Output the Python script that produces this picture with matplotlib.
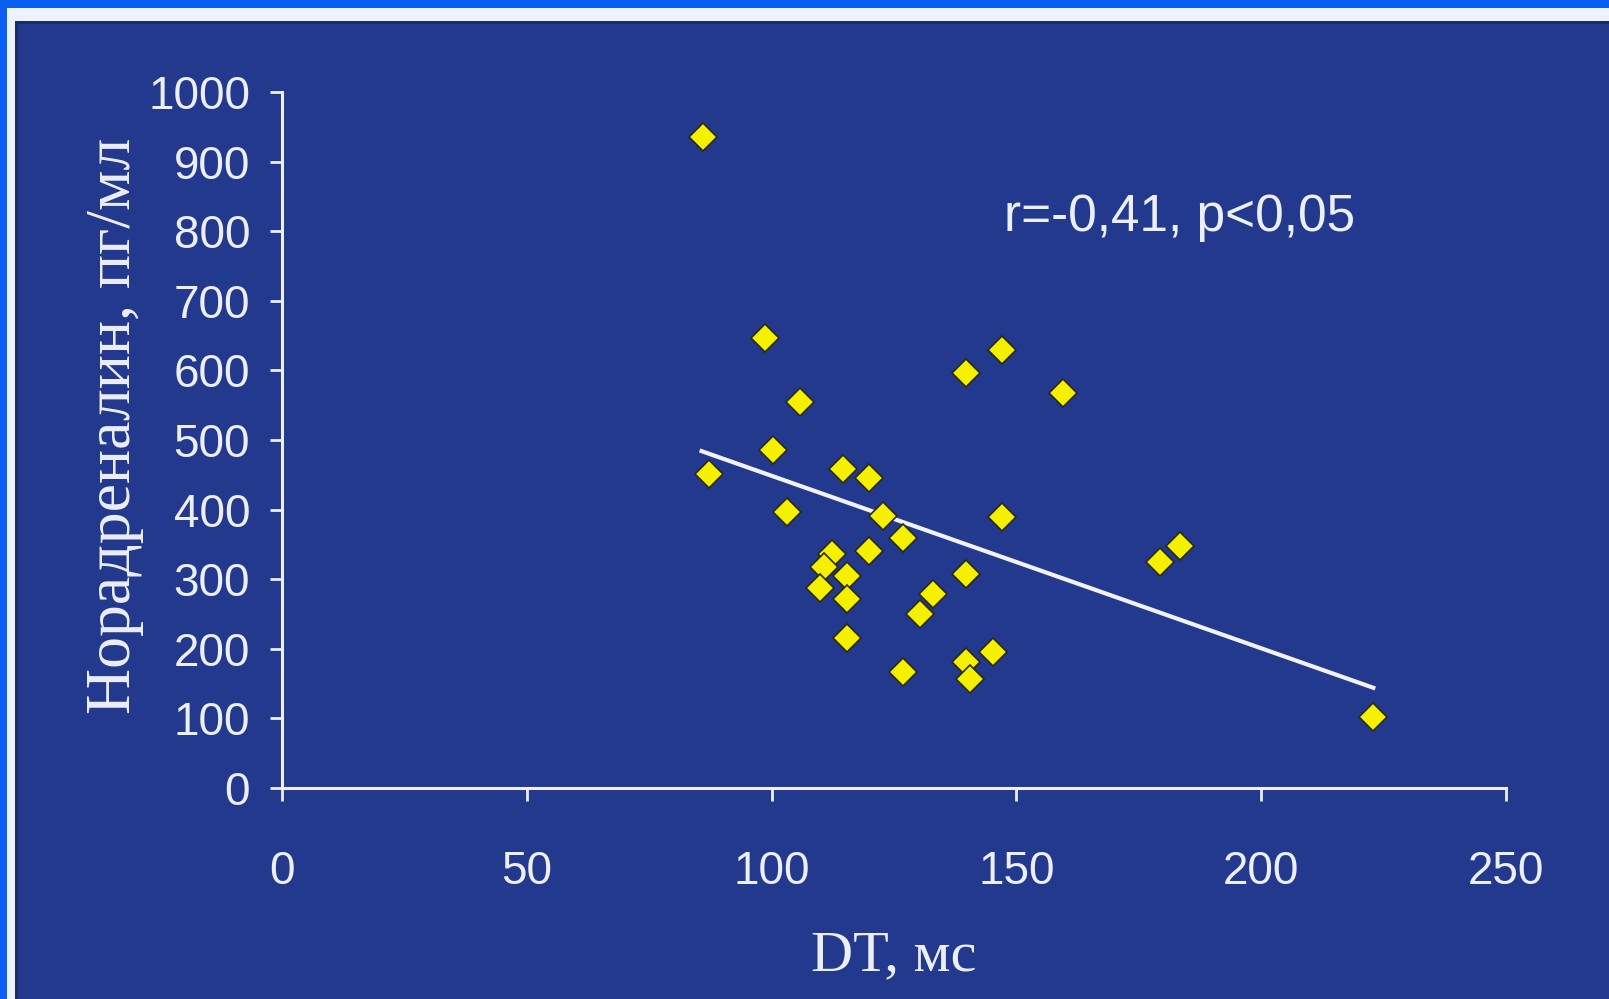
import matplotlib.pyplot as plt
from matplotlib.patches import Rectangle

# DT, ms (x) and noradrenaline, pg/ml (y)
dt_ms = [86.0, 87.3, 98.7, 100.3, 105.8, 103.1, 114.5, 119.8, 122.8, 126.8,
         119.8, 112.3, 110.8, 109.9, 115.3, 115.3, 115.3, 126.8, 132.9, 130.3,
         139.8, 139.8, 140.5, 145.3, 139.8, 147.0, 147.0, 159.5, 179.3, 183.4,
         222.9]
noradr = [935, 451, 646, 486, 554, 396, 458, 445, 391, 359,
          341, 336, 317, 288, 305, 272, 216, 167, 279, 250,
          307, 181, 157, 195, 596, 630, 389, 567, 324, 348,
          102]

# regression line end points as drawn in the source
fit_x = [85.7, 222.9]
fit_y = [484, 144]

x_ticks = [0, 50, 100, 150, 200, 250]
y_ticks = list(range(0, 1001, 100))

NAVY = "#23398d"
BLUE = "#0a5ef0"
FG = "#eceef8"

fig = plt.figure(figsize=(16.09, 9.99), dpi=100, facecolor=NAVY)
W, H = 1609, 999

# slide frame: bright blue band + white band on top and left
fig.patches.append(Rectangle((0, 0), 1, 1, transform=fig.transFigure,
                             facecolor=BLUE, edgecolor="none", zorder=-3))
fig.patches.append(Rectangle((7 / W, 0), 1, (H - 8) / H, transform=fig.transFigure,
                             facecolor="#eef2fa", edgecolor="none", zorder=-2))
fig.patches.append(Rectangle((15 / W, 0), 1, (H - 21) / H, transform=fig.transFigure,
                             facecolor="#1a2b6a", edgecolor="none", zorder=-1.5))
fig.patches.append(Rectangle((18 / W, 0), 1, (H - 24) / H, transform=fig.transFigure,
                             facecolor=NAVY, edgecolor="none", zorder=-1))

ax = fig.add_axes([282 / W, (H - 788) / H, (1506 - 282) / W, (788 - 92) / H])
ax.set_facecolor("none")

ax.plot(fit_x, fit_y, color="#f2f2fa", linewidth=3, zorder=2)
ax.plot(dt_ms, noradr, linestyle="none", marker="D", markersize=14.5,
        markerfacecolor="#f4f000", markeredgecolor="#2a2a18", markeredgewidth=1.2,
        zorder=3, clip_on=False)

ax.set_xlim(0, 250)
ax.set_ylim(0, 1000)
ax.set_xticks(x_ticks)
ax.set_yticks(y_ticks)

for side in ("top", "right"):
    ax.spines[side].set_visible(False)
for side in ("left", "bottom"):
    ax.spines[side].set_color(FG)
    ax.spines[side].set_linewidth(2.2)

ax.tick_params(axis="both", colors=FG, width=2, length=9, direction="out")
ax.tick_params(axis="x", pad=36)
ax.tick_params(axis="y", pad=14)
for lab in ax.get_xticklabels() + ax.get_yticklabels():
    lab.set_fontfamily("Liberation Sans")
    lab.set_fontsize(33)
    lab.set_color(FG)

ax.set_xlabel("DT, мс", fontfamily="Liberation Serif", fontsize=42,
              color=FG, labelpad=26)
ax.set_ylabel("Норадреналин, пг/мл", fontfamily="Liberation Serif", fontsize=46,
              color=FG)
ax.yaxis.set_label_coords(-0.113, 0.52)

ax.text(147.4, 820, "r=-0,41, p<0,05", fontfamily="Liberation Sans",
        fontsize=37, color=FG, ha="left", va="center")

fig.savefig("out.png", dpi=100, facecolor=fig.get_facecolor())
